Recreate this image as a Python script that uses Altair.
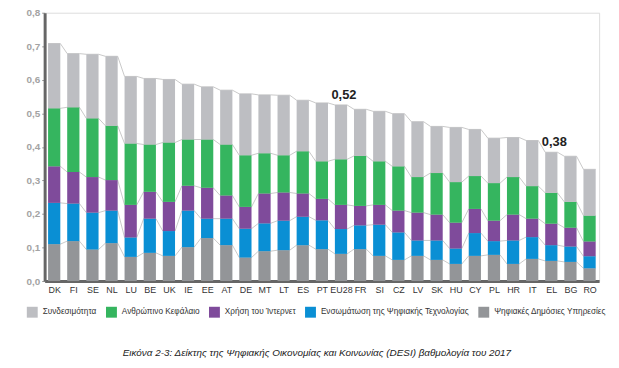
import json
import altair as alt
import pandas as pd

countries = ["DK", "FI", "SE", "NL", "LU", "BE", "UK", "IE", "EE", "AT", "DE", "MT", "LT", "ES",
             "PT", "EU28", "FR", "SI", "CZ", "LV", "SK", "HU", "CY", "PL", "HR", "IT", "EL", "BG", "RO"]

series = ["Συνδεσιμότητα", "Ανθρώπινο Κεφάλαιο", "Χρήση του Ίντερνετ",
          "Ενσωμάτωση της Ψηφιακής Τεχνολογίας", "Ψηφιακές Δημόσιες Υπηρεσίες"]
colors = ["#bdbec2", "#35b55f", "#7f4b9b", "#0a8fd4", "#939598"]

connectivity = [0.193, 0.160, 0.191, 0.207, 0.200, 0.197, 0.188, 0.165, 0.157, 0.162, 0.183, 0.174, 0.179, 0.152,
                0.174, 0.162, 0.139, 0.149, 0.157, 0.165, 0.139, 0.163, 0.139, 0.134, 0.118, 0.136, 0.121, 0.136, 0.138]
human_capital = [0.173, 0.193, 0.175, 0.162, 0.183, 0.141, 0.177, 0.138, 0.144, 0.152, 0.154, 0.120, 0.111, 0.126,
                 0.112, 0.136, 0.149, 0.130, 0.132, 0.106, 0.124, 0.121, 0.098, 0.112, 0.112, 0.097, 0.092, 0.077, 0.077]
internet_use = [0.109, 0.094, 0.106, 0.091, 0.097, 0.080, 0.087, 0.074, 0.092, 0.069, 0.065, 0.089, 0.084, 0.069,
                0.064, 0.072, 0.058, 0.059, 0.065, 0.083, 0.077, 0.077, 0.072, 0.061, 0.077, 0.055, 0.064, 0.056, 0.044]
integration = [0.123, 0.112, 0.110, 0.097, 0.058, 0.102, 0.074, 0.109, 0.058, 0.079, 0.086, 0.083, 0.088, 0.085,
               0.086, 0.074, 0.071, 0.093, 0.082, 0.046, 0.058, 0.046, 0.068, 0.041, 0.070, 0.065, 0.047, 0.046, 0.036]
public_services = [0.110, 0.119, 0.094, 0.113, 0.072, 0.084, 0.075, 0.101, 0.128, 0.107, 0.070, 0.089, 0.092, 0.107,
                   0.095, 0.081, 0.095, 0.075, 0.063, 0.075, 0.063, 0.051, 0.075, 0.078, 0.051, 0.066, 0.060, 0.057, 0.038]

y_ticks = [0.0, 0.1, 0.2, 0.3, 0.4, 0.5, 0.6, 0.7, 0.8]
annot_countries = ["EU28", "EL"]
annot_labels = ["0,52", "0,38"]
caption = "Εικόνα 2-3: Δείκτης της Ψηφιακής Οικονομίας και Κοινωνίας (DESI) βαθμολογία του 2017"

HALF = 0.32  # half bar width in category units

# stacking from bottom to top
stack_series = [
    (series[4], public_services),
    (series[3], integration),
    (series[2], internet_use),
    (series[1], human_capital),
    (series[0], connectivity),
]

rows = []
line_rows = []
for i, c in enumerate(countries):
    cum = 0.0
    for s, vals in stack_series:
        v = vals[i]
        rows.append({"idx": i, "country": c, "series": s, "y0": cum, "y1": cum + v,
                     "x0": i - HALF, "x1": i + HALF})
        cum += v
        for side in (-HALF, HALF):
            line_rows.append({"series": s, "xe": i + side, "yv": cum})
df = pd.DataFrame(rows)
df_lines = pd.DataFrame(line_rows)

totals = df.groupby("country")["y1"].max()
df_ann = pd.DataFrame({
    "idx": [countries.index(c) for c in annot_countries],
    "total": [totals[c] for c in annot_countries],
    "label": annot_labels,
})

xscale = alt.Scale(domain=[-0.5, len(countries) - 0.5], nice=False, zero=False)
yscale = alt.Scale(domain=[0, 0.8], nice=False)

x_axis = alt.Axis(
    values=list(range(len(countries))),
    labelExpr=json.dumps(countries, ensure_ascii=False) + "[datum.value]",
    ticks=False, grid=False, title=None,
    domainColor="#666666", domainWidth=3,
    labelFontSize=9, labelColor="#333333", labelPadding=5, labelFontWeight="normal",
    labelFont="Liberation Sans", labelOverlap=False, labelFlush=False,
)
y_axis = alt.Axis(
    values=y_ticks,
    labelExpr="replace(format(datum.value, '.1f'), '.', ',')",
    grid=False, title=None,
    domainColor="#666666", domainWidth=3,
    tickColor="#999999", tickSize=3, tickWidth=1,
    labelFontSize=10, labelFontWeight="bold", labelColor="#a3a3a3",
    labelPadding=2, labelFont="Liberation Sans", labelOverlap=False, labelFlush=False,
)

lines = alt.Chart(df_lines).mark_line(color="#c8c8c8", strokeWidth=1).encode(
    x=alt.X("xe:Q", scale=xscale, axis=x_axis),
    y=alt.Y("yv:Q", scale=yscale, axis=y_axis),
    detail="series:N",
    order="xe:Q",
)

bars = alt.Chart(df).mark_bar(stroke=None).encode(
    x=alt.X("x0:Q", scale=xscale, axis=x_axis),
    x2="x1:Q",
    y=alt.Y("y0:Q", scale=yscale, axis=y_axis),
    y2="y1:Q",
    color=alt.Color(
        "series:N",
        scale=alt.Scale(domain=series, range=colors),
        legend=alt.Legend(
            title=None, orient="none", direction="horizontal", columns=5,
            legendX=-18, legendY=297,
            symbolType="square", symbolSize=121, symbolStrokeWidth=0,
            labelFontSize=8.3, labelColor="#333333", labelFont="Liberation Sans",
            labelOffset=5, columnPadding=9, labelLimit=300,
        ),
    ),
)

ann = alt.Chart(df_ann).mark_text(
    fontSize=13, fontWeight="bold", color="#222222", baseline="bottom", dy=-3, dx=3,
    font="Liberation Sans",
).encode(
    x=alt.X("idx:Q", scale=xscale, axis=x_axis),
    y=alt.Y("total:Q", scale=yscale, axis=y_axis),
    text="label:N",
)

chart = alt.layer(lines, bars, ann).properties(
    width=560, height=271,
    autosize=alt.AutoSizeParams(type="none"),
    padding={"left": 37, "top": 3, "right": 12, "bottom": 78},
    title=alt.TitleParams(
        text=caption, orient="bottom", anchor="middle", offset=31,
        fontSize=10, fontStyle="italic", fontWeight="normal", color="#222222",
        font="Liberation Sans", dx=-5,
    ),
).configure_view(stroke=None).configure_axis(
    labelOverlap=False
).configure(background="white")

chart.save("out.html", embed_options={"renderer": "svg", "actions": False})
